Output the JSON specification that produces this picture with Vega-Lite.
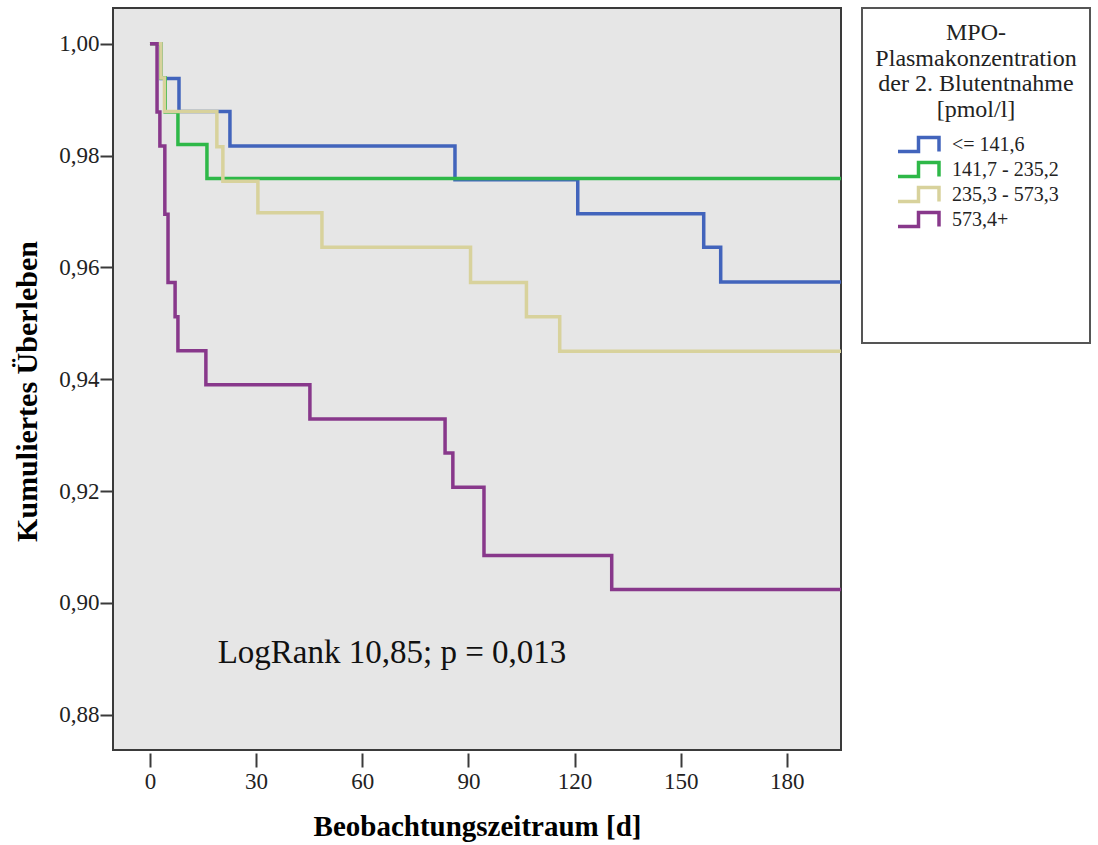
{
  "$schema": "https://vega.github.io/schema/vega-lite/v6.json",
  "width": 728,
  "height": 742,
  "autosize": {"type": "none"},
  "padding": {"left": 113, "top": 8, "right": 257, "bottom": 95},
  "background": "white",
  "config": {
    "font": "Liberation Serif",
    "view": {"fill": "#e6e6e6", "stroke": "#3a3a3a", "strokeWidth": 2},
    "legend": {"strokeWidth": 2}
  },
  "layer": [
    {
      "data": {
        "values": [
          {"gruppe": "<= 141,6", "tag": 0, "ueberleben": 1.0},
          {"gruppe": "<= 141,6", "tag": 3.1, "ueberleben": 0.9938},
          {"gruppe": "<= 141,6", "tag": 8.2, "ueberleben": 0.9879},
          {"gruppe": "<= 141,6", "tag": 22.6, "ueberleben": 0.9817},
          {"gruppe": "<= 141,6", "tag": 86.2, "ueberleben": 0.9757},
          {"gruppe": "<= 141,6", "tag": 120.9, "ueberleben": 0.9696},
          {"gruppe": "<= 141,6", "tag": 156.5, "ueberleben": 0.9636},
          {"gruppe": "<= 141,6", "tag": 161.3, "ueberleben": 0.9574},
          {"gruppe": "<= 141,6", "tag": 195.3, "ueberleben": 0.9574},
          {"gruppe": "141,7 - 235,2", "tag": 0, "ueberleben": 1.0},
          {"gruppe": "141,7 - 235,2", "tag": 3.1, "ueberleben": 0.9939},
          {"gruppe": "141,7 - 235,2", "tag": 4.3, "ueberleben": 0.9878},
          {"gruppe": "141,7 - 235,2", "tag": 7.9, "ueberleben": 0.982},
          {"gruppe": "141,7 - 235,2", "tag": 16.1, "ueberleben": 0.9759},
          {"gruppe": "141,7 - 235,2", "tag": 195.3, "ueberleben": 0.9759},
          {"gruppe": "235,3 - 573,3", "tag": 0, "ueberleben": 1.0},
          {"gruppe": "235,3 - 573,3", "tag": 3.1, "ueberleben": 0.9939},
          {"gruppe": "235,3 - 573,3", "tag": 4.1, "ueberleben": 0.9879},
          {"gruppe": "235,3 - 573,3", "tag": 18.9, "ueberleben": 0.9816},
          {"gruppe": "235,3 - 573,3", "tag": 20.6, "ueberleben": 0.9754},
          {"gruppe": "235,3 - 573,3", "tag": 30.5, "ueberleben": 0.9698},
          {"gruppe": "235,3 - 573,3", "tag": 48.6, "ueberleben": 0.9636},
          {"gruppe": "235,3 - 573,3", "tag": 90.6, "ueberleben": 0.9573},
          {"gruppe": "235,3 - 573,3", "tag": 106.4, "ueberleben": 0.9512},
          {"gruppe": "235,3 - 573,3", "tag": 115.8, "ueberleben": 0.945},
          {"gruppe": "235,3 - 573,3", "tag": 195.3, "ueberleben": 0.945},
          {"gruppe": "573,4+", "tag": 0, "ueberleben": 1.0},
          {"gruppe": "573,4+", "tag": 2.0, "ueberleben": 0.9878},
          {"gruppe": "573,4+", "tag": 2.8, "ueberleben": 0.9817},
          {"gruppe": "573,4+", "tag": 4.2, "ueberleben": 0.9695},
          {"gruppe": "573,4+", "tag": 5.1, "ueberleben": 0.9573},
          {"gruppe": "573,4+", "tag": 7.1, "ueberleben": 0.9512},
          {"gruppe": "573,4+", "tag": 7.9, "ueberleben": 0.9451},
          {"gruppe": "573,4+", "tag": 15.8, "ueberleben": 0.939},
          {"gruppe": "573,4+", "tag": 45.2, "ueberleben": 0.9329},
          {"gruppe": "573,4+", "tag": 83.4, "ueberleben": 0.9268},
          {"gruppe": "573,4+", "tag": 85.6, "ueberleben": 0.9207},
          {"gruppe": "573,4+", "tag": 94.4, "ueberleben": 0.9085},
          {"gruppe": "573,4+", "tag": 130.5, "ueberleben": 0.9024},
          {"gruppe": "573,4+", "tag": 195.3, "ueberleben": 0.9024}
        ]
      },
      "mark": {"type": "line", "interpolate": "step-after", "strokeWidth": 3.5, "clip": true},
      "encoding": {
        "x": {
          "field": "tag",
          "type": "quantitative",
          "scale": {"domain": [-10.45, 195.3], "nice": false, "zero": false},
          "axis": {
            "values": [0, 30, 60, 90, 120, 150, 180],
            "title": "Beobachtungszeitraum [d]",
            "titleFont": "Liberation Serif",
            "titleFontSize": 29,
            "titleFontWeight": "bold",
            "titleColor": "black",
            "titleY": 82,
            "titleBaseline": "alphabetic",
            "labelFont": "Liberation Serif",
            "labelFontSize": 23,
            "labelColor": "#222222",
            "labelPadding": 3,
            "labelFlush": false,
            "tickSize": 14,
            "tickWidth": 2,
            "tickColor": "#3a3a3a",
            "offset": 3,
            "domain": false,
            "grid": false
          }
        },
        "y": {
          "field": "ueberleben",
          "type": "quantitative",
          "scale": {"domain": [0.8737, 1.0064], "nice": false, "zero": false},
          "axis": {
            "values": [0.88, 0.9, 0.92, 0.94, 0.96, 0.98, 1.0],
            "labelExpr": "replace(format(datum.value, '.2f'), '.', ',')",
            "title": "Kumuliertes Überleben",
            "titleFont": "Liberation Serif",
            "titleFontSize": 30,
            "titleFontWeight": "bold",
            "titleColor": "black",
            "titleAngle": -90,
            "titleX": -86,
            "titleY": 383,
            "titleAlign": "center",
            "titleBaseline": "middle",
            "labelFont": "Liberation Serif",
            "labelFontSize": 23,
            "labelColor": "#222222",
            "labelPadding": 1,
            "labelFlush": false,
            "tickSize": 13,
            "tickWidth": 2,
            "tickColor": "#3a3a3a",
            "domain": false,
            "grid": false
          }
        },
        "color": {
          "field": "gruppe",
          "type": "nominal",
          "scale": {
            "domain": ["<= 141,6", "141,7 - 235,2", "235,3 - 573,3", "573,4+", " ", "  ", "   ", "    "],
            "range": ["#4264bc", "#2eb848", "#d8d29c", "#88388b", "transparent", "transparent", "transparent", "transparent"]
          },
          "legend": {
            "orient": "none",
            "legendX": 749,
            "legendY": 0,
            "title": ["MPO-", "Plasmakonzentration", "der 2. Blutentnahme", "[pmol/l]"],
            "titleFont": "Liberation Serif",
            "titleFontSize": 24,
            "titleFontWeight": "normal",
            "titleColor": "#222222",
            "titleLineHeight": 25.5,
            "titleAnchor": "middle",
            "titleAlign": "center",
            "titlePadding": 13,
            "titleLimit": 400,
            "labelFont": "Liberation Serif",
            "labelFontSize": 20,
            "labelColor": "#222222",
            "labelOffset": 11,
            "labelLimit": 300,
            "symbolType": "M-1,0.34L0,0.34L0,-0.34L1,-0.34L1,0.34",
            "symbolSize": 1681,
            "symbolStrokeWidth": 3.5,
            "symbolFillColor": "transparent",
            "symbolOffset": 2,
            "clipHeight": 20,
            "rowPadding": 5,
            "padding": 13,
            "strokeColor": "#555555",
            "fillColor": "white"
          }
        }
      }
    },
    {
      "data": {"values": [{"hinweis": "LogRank 10,85; p = 0,013"}]},
      "mark": {
        "type": "text",
        "font": "Liberation Serif",
        "fontSize": 33,
        "color": "#111111",
        "align": "center",
        "baseline": "alphabetic"
      },
      "encoding": {
        "x": {"datum": 68.4},
        "y": {"datum": 0.8893},
        "text": {"field": "hinweis"}
      }
    }
  ]
}
